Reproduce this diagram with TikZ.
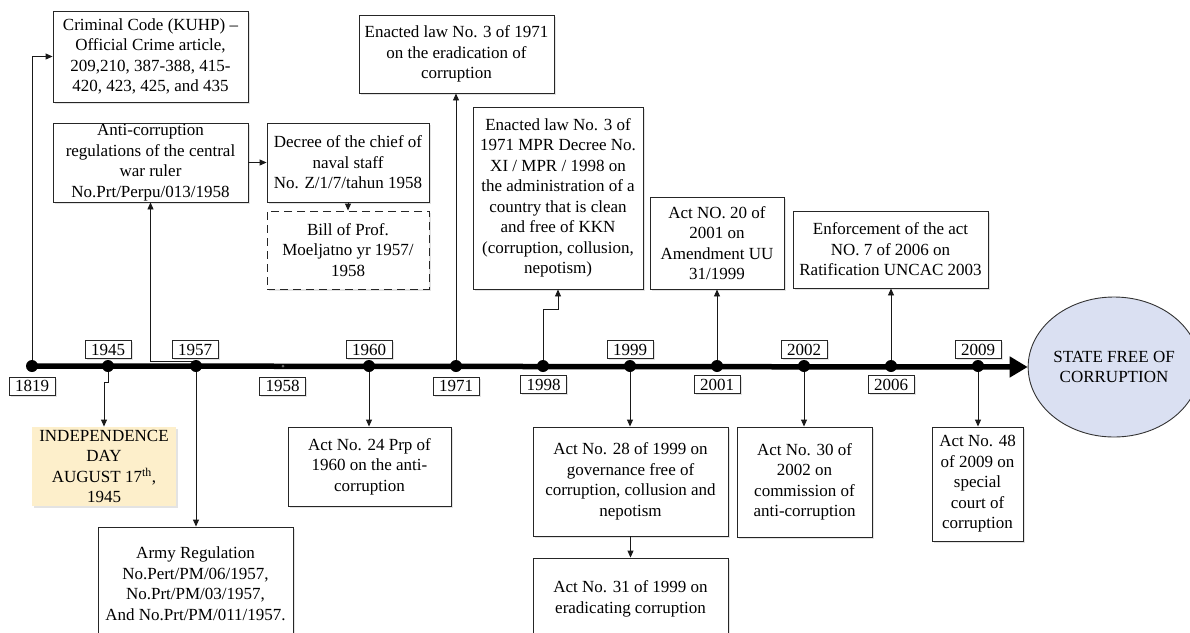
\documentclass[tikz,border=0pt]{standalone}
\usepackage{fontspec}
\setmainfont{Liberation Serif}
\usetikzlibrary{arrows.meta,shapes.geometric,shadows}
\definecolor{indepfill}{RGB}{253,239,203}
\definecolor{goalfill}{RGB}{218,224,242}
\begin{document}
\begin{tikzpicture}[x=1pt,y=-1pt,
  every node/.style={font=\fontsize{17}{20.5}\selectfont},
  box/.style={draw=black!85, line width=0.9pt, fill=white, align=center, inner sep=0pt,
    drop shadow={shadow xshift=1.5pt,shadow yshift=-1.5pt,opacity=0.22}},
  yr/.style={box, minimum width=46pt, minimum height=18pt},
  dot/.style={circle, fill=black, inner sep=0pt, minimum size=12pt},
  conn/.style={draw=black!90, line width=0.9pt, -{Triangle[length=7pt,width=6pt]}},
]
\useasboundingbox (0,0) rectangle (1190,632);
\clip (0,0) rectangle (1190,632);

% ---- timeline dots (positions) ----
\coordinate (c1819) at (32,366);
\coordinate (c1945) at (108,366);
\coordinate (c1957) at (196,366);
\coordinate (c1958) at (283,366);
\coordinate (c1960) at (369,366);
\coordinate (c1971) at (456,366);
\coordinate (c1998) at (543,366);
\coordinate (c1999) at (630,366);
\coordinate (c2001) at (717,366);
\coordinate (c2002) at (804,366);
\coordinate (c2006) at (891,366);
\coordinate (c2009) at (978,366);

% ---- goal ellipse ----
\node[ellipse, draw=black!80, line width=0.9pt, fill=goalfill, minimum width=152pt,
  minimum height=140pt, inner sep=0pt, align=center] (goal) at (1114,367) {STATE FREE OF\\CORRUPTION};

% ---- event boxes ----
\node[box, minimum width=195pt, minimum height=91pt] (crim) at (150.5,56.5)
  {Criminal Code (KUHP) –\\Official Crime article,\\209,210, 387-388, 415-\\420, 423, 425, and 435};
\node[box, minimum width=195pt, minimum height=79pt] (anti) at (150.5,162.5)
  {Anti-corruption\\regulations of the central\\war ruler\\No.Prt/Perpu/013/1958};
\node[box, minimum width=162pt, minimum height=79pt] (decree) at (348,162.5)
  {Decree of the chief of\\naval staff\\No. Z/1/7/tahun 1958};
\node[box, dashed, dash pattern=on 8pt off 5pt, minimum width=162pt, minimum height=78pt] (bill) at (348,250)
  {Bill of Prof.\\Moeljatno yr 1957/\\1958};
\node[box, minimum width=195pt, minimum height=78pt] (e1971) at (456.5,54)
  {Enacted law No. 3 of 1971\\on the eradication of\\corruption};
\node[box, minimum width=170pt, minimum height=182pt] (mpr) at (558,198)
  {Enacted law No. 3 of\\1971 MPR Decree No.\\XI / MPR / 1998 on\\the administration of a\\country that is clean\\and free of KKN\\(corruption, collusion,\\nepotism)};
\node[box, minimum width=134pt, minimum height=92pt] (a2001) at (717,243)
  {Act NO. 20 of\\2001 on\\Amendment UU\\31/1999};
\node[box, minimum width=195pt, minimum height=77pt] (enf) at (890.5,249.5)
  {Enforcement of the act\\NO. 7 of 2006 on\\Ratification UNCAC 2003};
\node[box, draw=none, fill=indepfill, minimum width=144pt, minimum height=79pt] (indep) at (104,466.5)
  {INDEPENDENCE\\DAY\\AUGUST 17\textsuperscript{th},\\1945};
\node[box, minimum width=195pt, minimum height=113pt] (army) at (195.5,583.5)
  {Army Regulation\\No.Pert/PM/06/1957,\\No.Prt/PM/03/1957,\\And No.Prt/PM/011/1957.};
\node[box, minimum width=163pt, minimum height=79pt] (a1960) at (369.5,466.5)
  {Act No. 24 Prp of\\1960 on the anti-\\corruption};
\node[box, minimum width=195pt, minimum height=109pt] (a28) at (630.5,481.5)
  {Act No. 28 of 1999 on\\governance free of\\corruption, collusion and\\nepotism};
\node[box, minimum width=195pt, minimum height=82pt] (a31) at (630.5,599)
  {Act No. 31 of 1999 on\\eradicating corruption};
\node[box, minimum width=135pt, minimum height=110pt] (a30) at (804.5,482)
  {Act No. 30 of\\2002 on\\commission of\\anti-corruption};
\node[box, minimum width=91pt, minimum height=114pt] (a48) at (977.5,484)
  {Act No. 48\\of 2009 on\\special\\court of\\corruption};

% ---- connectors ----
\draw[conn] (c1819) |- (crim.west);
\draw[conn] ([yshift=5pt]c1957) -| (anti.south);
\draw[conn] (anti.east) -- (decree.west);
\draw[conn] (decree.south) -- (bill.north);
\draw[conn] (c1971) -- (c1971 |- e1971.south);
\draw[conn] (c1998) -- ++(0,-57) -| (mpr.south);
\draw[conn] (c2001) -- (c2001 |- a2001.south);
\draw[conn] (c2006) -- (c2006 |- enf.south);
\draw[conn] (c1945) -- ++(0,16) -| (indep.north);
\draw[conn] (c1957) -- (c1957 |- army.north);
\draw[conn] (c1960) -- (c1960 |- a1960.north);
\draw[conn] (c1999) -- (c1999 |- a28.north);
\draw[conn] (a28.south) -- (a31.north);
\draw[conn] (c2002) -- (c2002 |- a30.north);
\draw[conn] (c2009) -- (c2009 |- a48.north);

% ---- main timeline ----
\draw[line width=5.5pt, -{Triangle[length=18pt,width=20pt]}] (c1819) -- (goal.west);

% ---- dots ----
\foreach \n in {1819,1945,1957,1960,1971,1998,1999,2001,2002,2006,2009}
  \node[dot] (d\n) at (c\n) {};
\node[circle, fill=black!60, inner sep=0pt, minimum size=3pt] (d1958) at (c1958) {};

% ---- year labels ----
\node[yr] (y1945) at (108,349.5) {1945};
\node[yr] (y1957) at (195,349.5) {1957};
\node[yr] (y1960) at (369,349.5) {1960};
\node[yr] (y1999) at (630,349.5) {1999};
\node[yr] (y2002) at (804,349.5) {2002};
\node[yr] (y2009) at (978,349.5) {2009};
\node[yr] (y1819) at (32,386) {1819};
\node[yr] (y1958) at (282.5,386) {1958};
\node[yr] (y1971) at (456,386) {1971};
\node[yr] (y1998) at (543.5,384.5) {1998};
\node[yr] (y2001) at (717,384.5) {2001};
\node[yr] (y2006) at (891,384.5) {2006};
\end{tikzpicture}
\end{document}
